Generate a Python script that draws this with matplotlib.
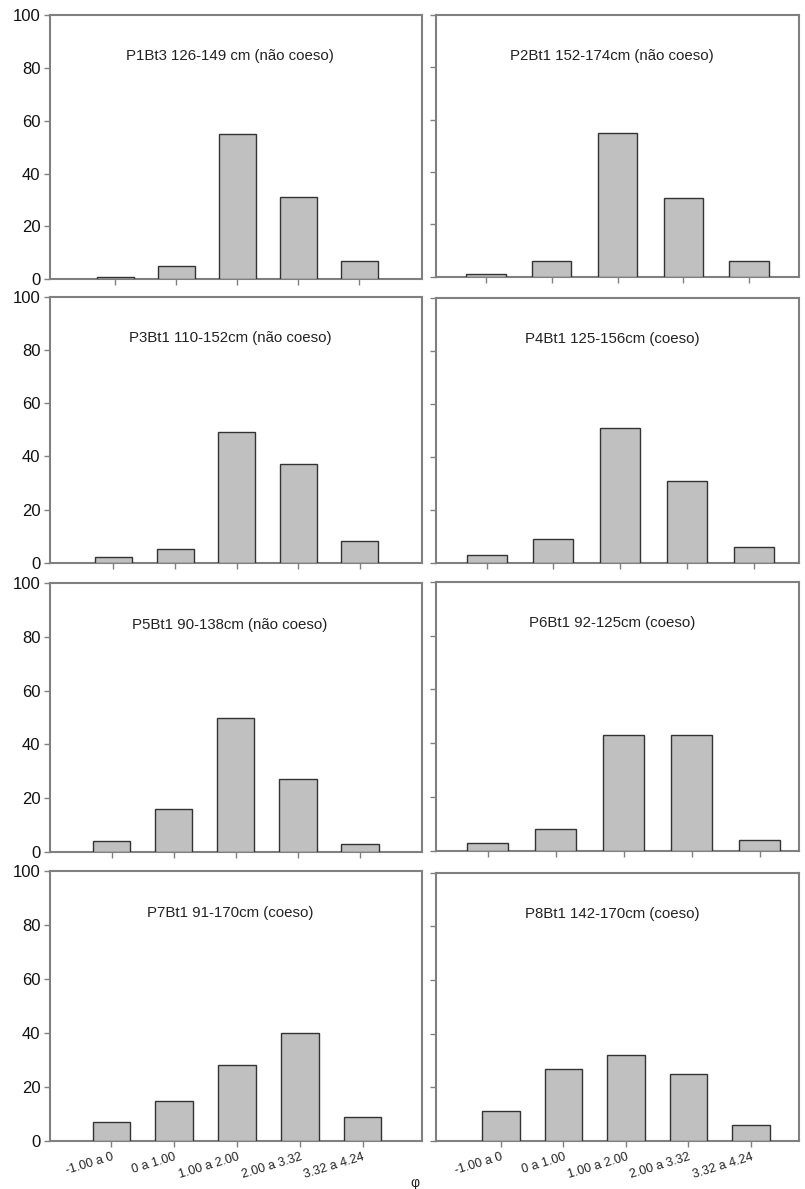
import matplotlib
matplotlib.use("Agg")
import matplotlib.pyplot as plt

categories = ["-1.00 a 0", "0 a 1.00", "1.00 a 2.00", "2.00 a 3.32", "3.32 a 4.24"]
titles = ["P1Bt3 126-149 cm (não coeso)", "P2Bt1 152-174cm (não coeso)",
          "P3Bt1 110-152cm (não coeso)", "P4Bt1 125-156cm (coeso)",
          "P5Bt1 90-138cm (não coeso)", "P6Bt1 92-125cm (coeso)",
          "P7Bt1 91-170cm (coeso)", "P8Bt1 142-170cm (coeso)"]
p1 = [1, 5, 55, 31, 7]
p2 = [1, 6, 55, 30, 6]
p3 = [2, 5, 49, 37, 8]
p4 = [3, 9, 51, 31, 6]
p5 = [4, 16, 50, 27, 3]
p6 = [3, 8, 43, 43, 4]
p7 = [7, 15, 28, 40, 9]
p8 = [11, 27, 32, 25, 6]
series = [p1, p2, p3, p4, p5, p6, p7, p8]
yticks = [0, 20, 40, 60, 80, 100]

W, H = 805, 1189
fig = plt.figure(figsize=(W / 100, H / 100), dpi=100)
plt.rcParams['font.family'] = ['Liberation Sans', 'DejaVu Sans']

# pixel boxes (x0, x1, ytop, ybottom)
boxes = [(50, 421.5, 15, 279.3), (436, 799, 15, 276.7),
         (50, 421.5, 296.7, 562.7), (436, 799, 297.7, 563.3),
         (50, 421.5, 583.3, 851.7), (436, 799, 581.7, 851),
         (50, 421.5, 871, 1141), (436, 799, 872.7, 1141)]
xlims = [(-1.07, 5.02), (-0.76, 4.76), (-1.03, 5.00), (-0.76, 4.68),
         (-0.99, 4.99), (-0.76, 4.58), (-0.98, 4.94), (-1.04, 4.77)]
spine_c = '#808080'

for i, (vals, title) in enumerate(zip(series, titles)):
    x0, x1, yt, yb = boxes[i]
    ax = fig.add_axes([x0 / W, 1 - yb / H, (x1 - x0) / W, (yb - yt) / H])
    xs = list(range(len(categories)))
    ax.bar(xs, vals, width=0.6, color='#c0c0c0', edgecolor='#333333', linewidth=1.0, zorder=3)
    ax.set_xlim(*xlims[i])
    ax.set_ylim(0, 100)
    ax.set_yticks(yticks)
    ax.set_xticks(xs)
    for s in ax.spines.values():
        s.set_color(spine_c)
        s.set_linewidth(1.5)
    ax.tick_params(axis='both', color=spine_c, length=4, width=1.0, direction='out')
    if i % 2 == 0:
        ax.set_yticklabels([str(t) for t in yticks], fontsize=12, color='#111111')
    else:
        ax.set_yticklabels([])
    if i >= 6:
        ax.set_xticklabels(categories, rotation=17, ha='right', rotation_mode='anchor',
                           fontsize=9, color='#222222')
    else:
        ax.set_xticklabels([])
    ax.tick_params(axis='y', pad=3)
    ax.text(0.485, 0.845, title, transform=ax.transAxes, ha='center', va='center',
            fontsize=10.8, color='#222222')

fig.text(415 / W, 1 - 1183 / H, 'φ', ha='center', va='center', fontsize=10, color='#222222')
fig.savefig('out.png', dpi=100)
